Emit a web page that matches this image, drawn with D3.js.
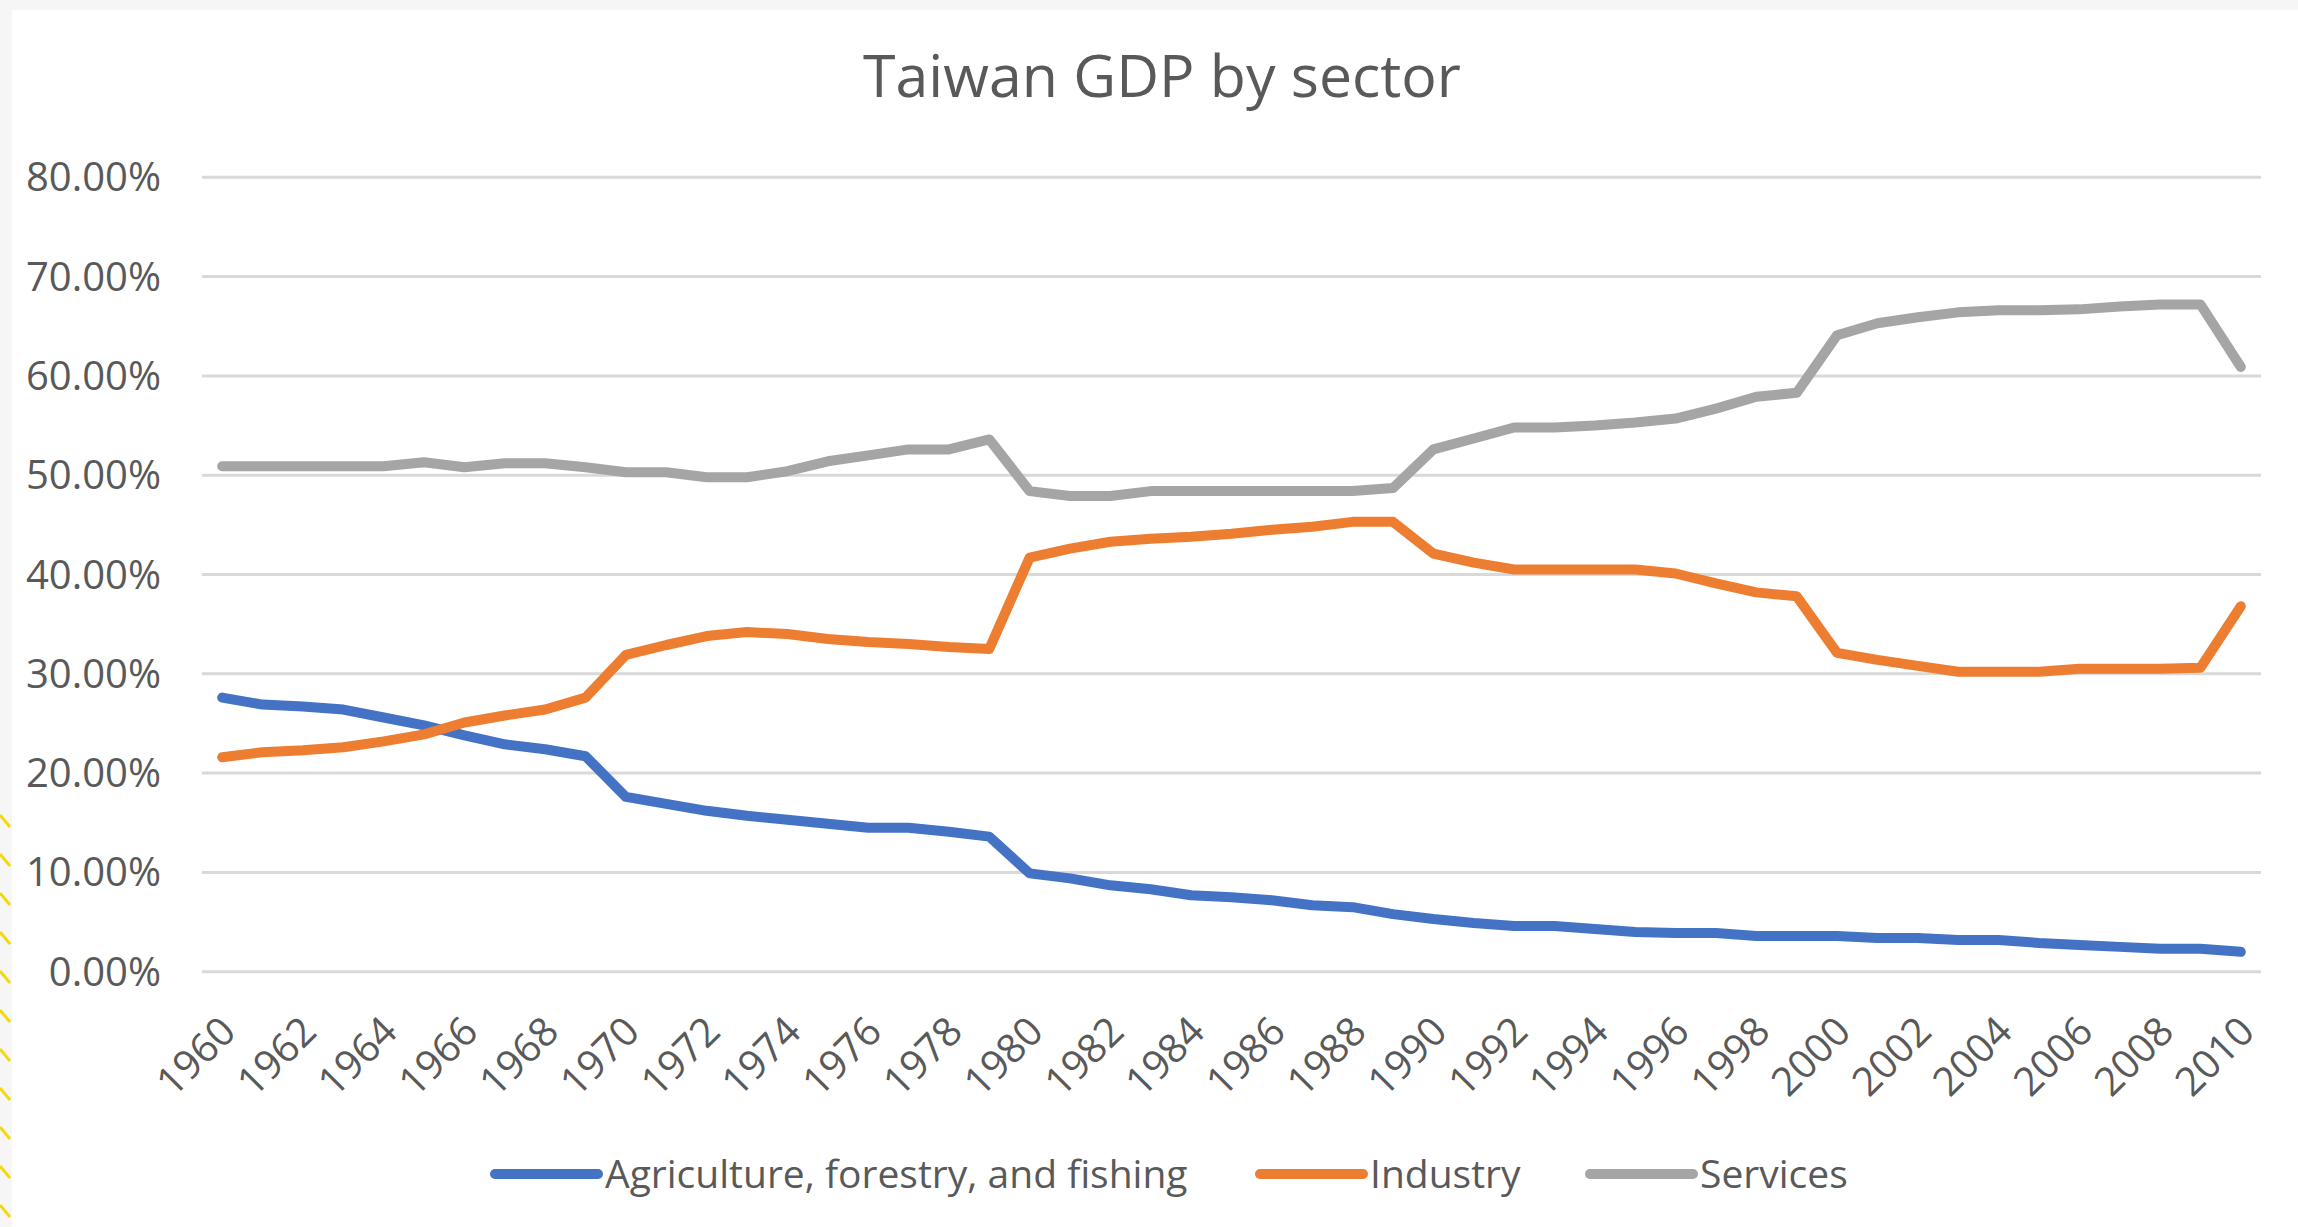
<!DOCTYPE html>
<html>
<head>
<meta charset="utf-8">
<script src="https://cdn.jsdelivr.net/npm/d3@7"></script>
<style>
  html, body { margin: 0; padding: 0; background: #f6f6f6; }
  svg { display: block; }
  text { font-family: "Open Sans", "Noto Sans", sans-serif; fill: #595959; }
</style>
</head>
<body>
<div id="chart"></div>
<script>
// data (shares of GDP)
const years = d3.range(1960, 2011);

const agriculture = [
  0.276, 0.269, 0.267, 0.264, 0.256, 0.248, 0.238, 0.229, 0.224, 0.217,
  0.176, 0.169, 0.162, 0.157, 0.153, 0.149, 0.145, 0.145, 0.141, 0.136,
  0.099, 0.094, 0.087, 0.083, 0.077, 0.075, 0.072, 0.067, 0.065, 0.058,
  0.053, 0.049, 0.046, 0.046, 0.043, 0.040, 0.039, 0.039, 0.036, 0.036,
  0.036, 0.034, 0.034, 0.032, 0.032, 0.029, 0.027, 0.025, 0.023, 0.023,
  0.020
];

const industry = [
  0.216, 0.221, 0.223, 0.226, 0.232, 0.239, 0.251, 0.258, 0.264, 0.276,
  0.319, 0.329, 0.338, 0.342, 0.340, 0.335, 0.332, 0.330, 0.327, 0.325,
  0.417, 0.426, 0.433, 0.436, 0.438, 0.441, 0.445, 0.448, 0.453, 0.453,
  0.421, 0.412, 0.405, 0.405, 0.405, 0.405, 0.401, 0.391, 0.382, 0.378,
  0.321, 0.314, 0.308, 0.302, 0.302, 0.302, 0.305, 0.305, 0.305, 0.306,
  0.368
];

const services = [
  0.509, 0.509, 0.509, 0.509, 0.509, 0.513, 0.508, 0.512, 0.512, 0.508,
  0.503, 0.503, 0.498, 0.498, 0.504, 0.514, 0.520, 0.526, 0.526, 0.536,
  0.484, 0.479, 0.479, 0.484, 0.484, 0.484, 0.484, 0.484, 0.484, 0.487,
  0.526, 0.537, 0.548, 0.548, 0.550, 0.553, 0.557, 0.567, 0.579, 0.583,
  0.641, 0.653, 0.659, 0.664, 0.666, 0.666, 0.667, 0.670, 0.672, 0.672,
  0.609
];

const seriesNames = ["Agriculture, forestry, and fishing", "Industry", "Services"];
const seriesColours = ["#4472C4", "#ED7D31", "#A5A5A5"];
const yTicks = [0, 0.1, 0.2, 0.3, 0.4, 0.5, 0.6, 0.7, 0.8];
const xTicks = years.filter(y => y % 2 === 0);

// setup
const width = 2298;
const height = 1227;

const svg = d3.select("#chart").append("svg")
    .attr("width", width)
    .attr("height", height);

// page frame, as in the screenshot
svg.append("rect")
    .attr("x", 0).attr("y", 0)
    .attr("width", width).attr("height", height)
    .attr("fill", "#f6f6f6");

svg.append("rect")
    .attr("x", 12).attr("y", 10)
    .attr("width", width - 12).attr("height", height - 10)
    .attr("fill", "#ffffff");

svg.append("g").attr("class", "hatch")
  .selectAll("line")
  .data(d3.range(815, height, 39))
    .enter()
  .append("line")
    .attr("x1", 0).attr("y1", d => d)
    .attr("x2", 10).attr("y2", d => d + 12)
    .attr("stroke", "#f5d90a")
    .attr("stroke-width", 3);

// scales
const x = d3.scalePoint()
    .domain(years)
    .range([202, 2261])
    .padding(0.5);

const y = d3.scaleLinear()
    .domain([0, 0.8])
    .range([971.7, 177.3]);

// gridlines
svg.append("g")
  .selectAll("line.grid")
  .data(yTicks)
    .enter()
  .append("line")
    .attr("class", "grid")
    .attr("x1", 202).attr("x2", 2261)
    .attr("y1", d => y(d)).attr("y2", d => y(d))
    .attr("stroke", "#d9d9d9")
    .attr("stroke-width", 3);

// y axis labels
svg.append("g")
  .selectAll("text.ytick")
  .data(yTicks)
    .enter()
  .append("text")
    .attr("class", "ytick")
    .attr("x", 161)
    .attr("y", d => y(d))
    .attr("dy", "0.35em")
    .attr("text-anchor", "end")
    .style("font-size", "40px")
    .text(d => d3.format(".2%")(d));

// x axis labels, rotated
svg.append("g")
  .selectAll("text.xtick")
  .data(xTicks)
    .enter()
  .append("text")
    .attr("class", "xtick")
    .attr("text-anchor", "end")
    .attr("transform", d => `translate(${x(d) - 4},${1014}) rotate(-45)`)
    .attr("dy", "0.7em")
    .style("font-size", "40px")
    .text(d => d);

// lines
const series = [agriculture, industry, services];

const line = d3.line()
    .x((d, i) => x(years[i]))
    .y(d => y(d));

svg.append("g")
  .selectAll("path.series")
  .data(series)
    .enter()
  .append("path")
    .attr("class", "series")
    .attr("d", line)
    .attr("fill", "none")
    .attr("stroke", (d, i) => seriesColours[i])
    .attr("stroke-width", 10)
    .attr("stroke-linejoin", "round")
    .attr("stroke-linecap", "round");

// title
svg.append("text")
    .attr("x", 1162)
    .attr("y", 97)
    .attr("text-anchor", "middle")
    .style("font-size", "59px")
    .text("Taiwan GDP by sector");

// legend
const legendX = [495, 1260, 1590];
const legend = svg.append("g").attr("class", "legend")
  .selectAll("g")
  .data(seriesNames)
    .enter()
  .append("g")
    .attr("transform", (d, i) => `translate(${legendX[i]},1174)`);

legend.append("line")
    .attr("x1", 0).attr("x2", 103)
    .attr("y1", 0).attr("y2", 0)
    .attr("stroke", (d, i) => seriesColours[i])
    .attr("stroke-width", 10)
    .attr("stroke-linecap", "round");

legend.append("text")
    .attr("x", 110)
    .attr("dy", "0.35em")
    .style("font-size", "39px")
    .text(d => d);
</script>
</body>
</html>
